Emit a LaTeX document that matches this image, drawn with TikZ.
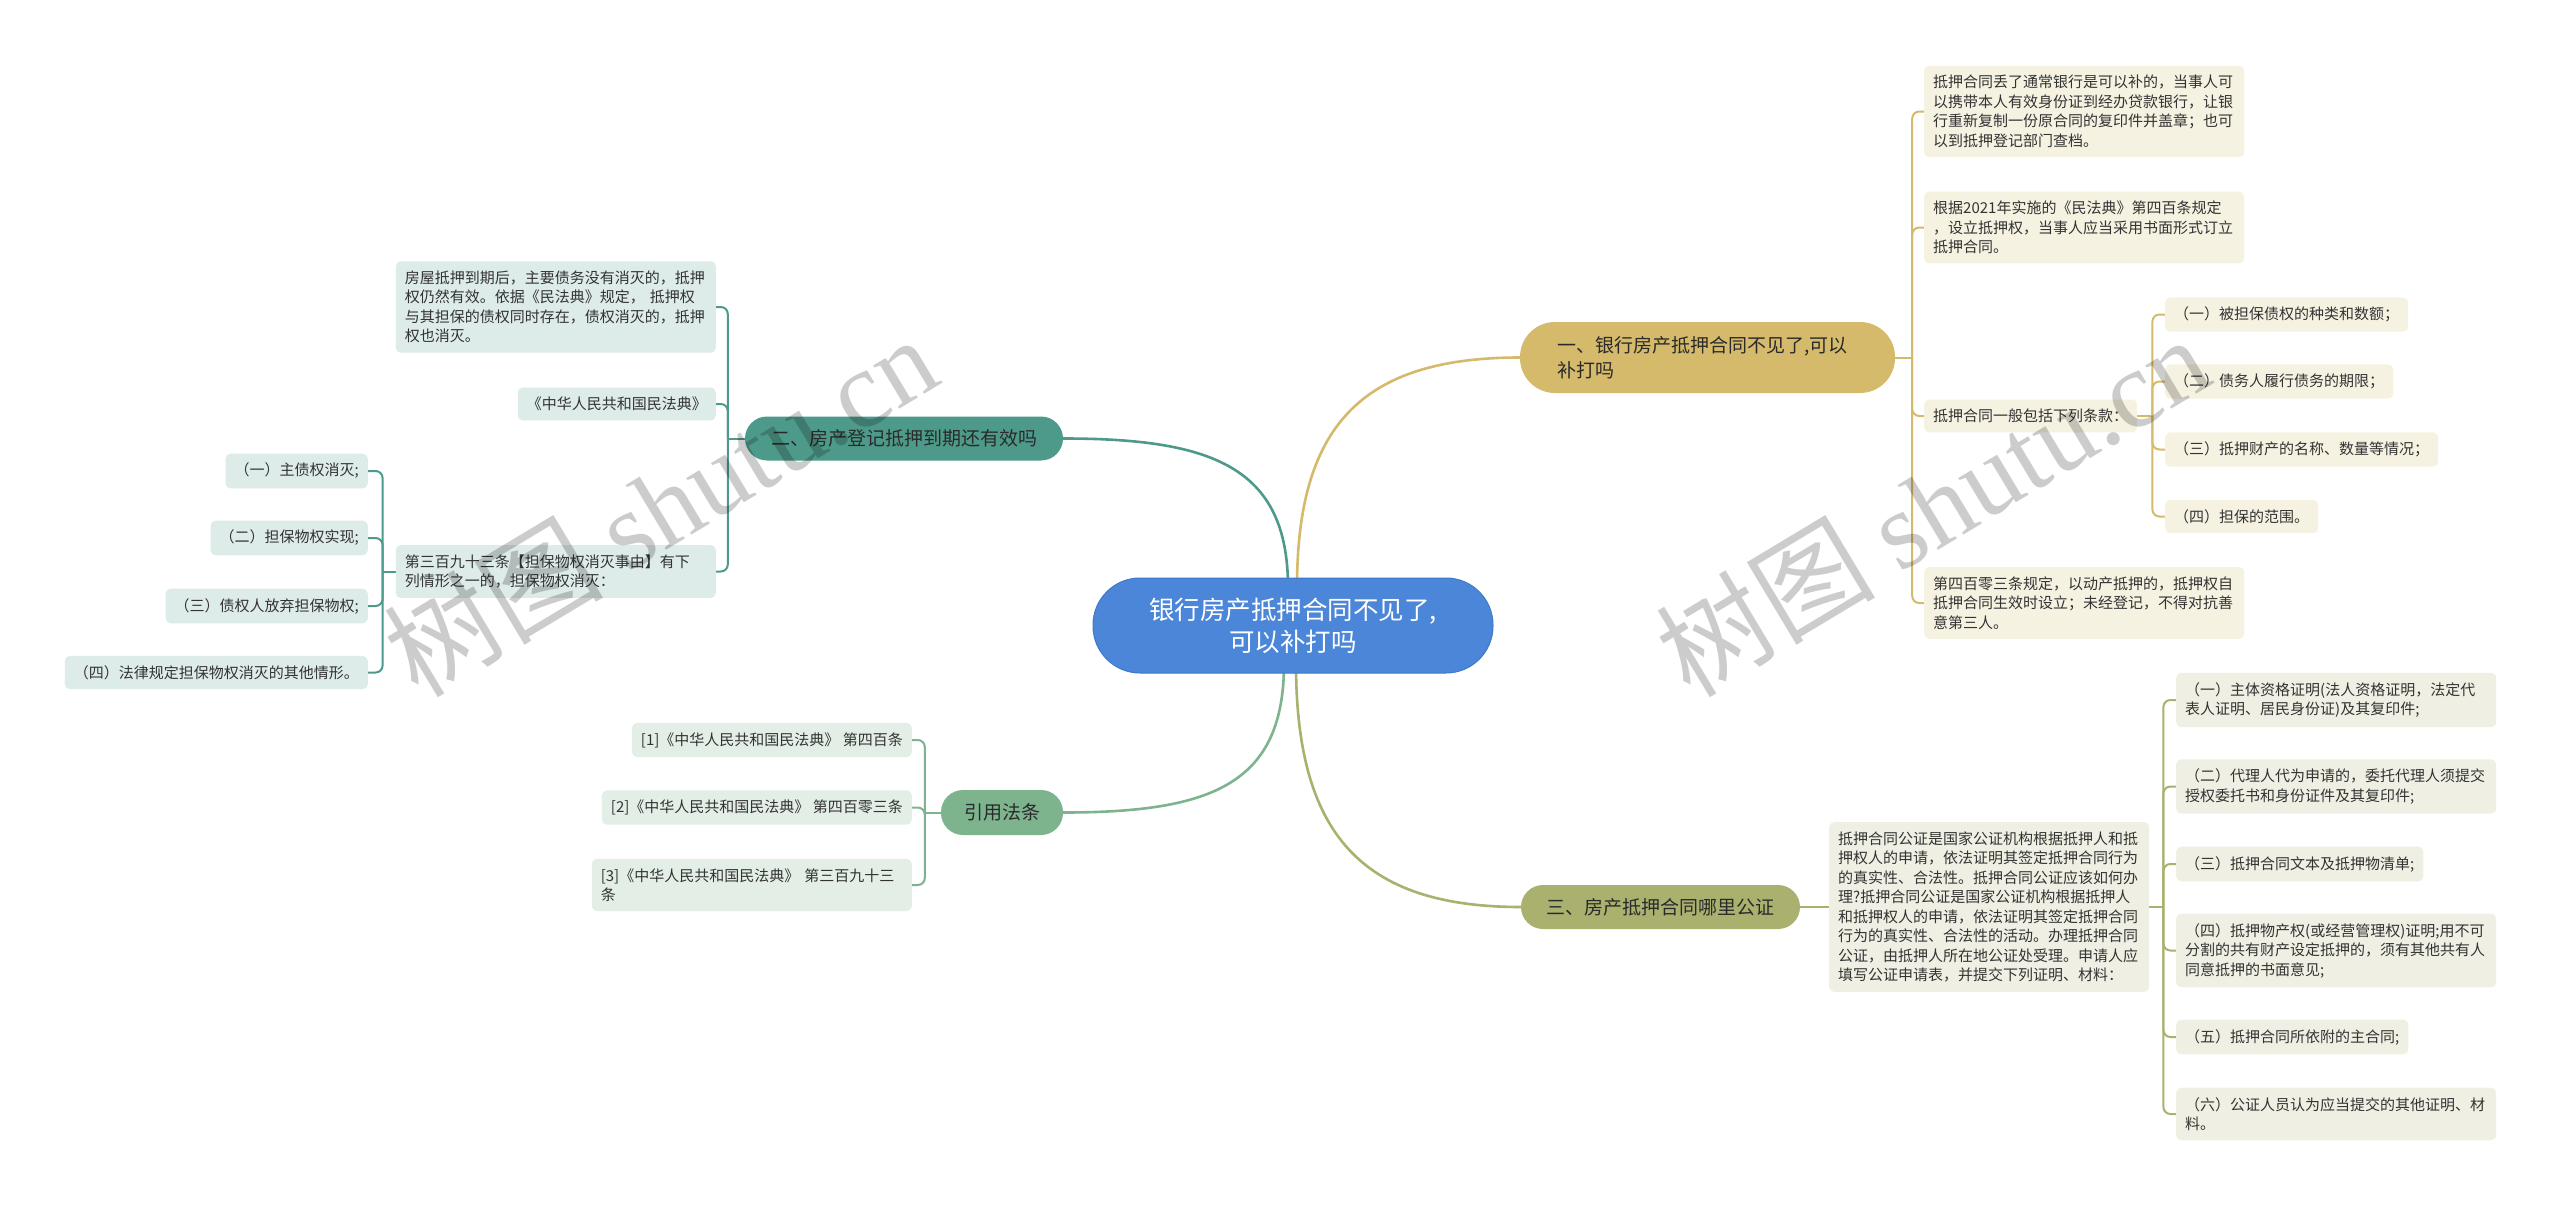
\documentclass[tikz,border=0pt]{standalone}
\usepackage{fontspec}
\setmainfont{Noto Sans CJK SC}
\newfontfamily\wmserif{Liberation Serif}
\usetikzlibrary{calc}
\pgfdeclarelayer{paper}
\pgfdeclarelayer{bg}
\pgfdeclarelayer{fg}
\pgfsetlayers{paper,bg,main,fg}
\definecolor{cblue}{HTML}{4C86D8}
\definecolor{cblueb}{HTML}{3F78C9}
\definecolor{cgold}{HTML}{D4BA6A}
\definecolor{cteal}{HTML}{4E9A8A}
\definecolor{cgreen}{HTML}{7DB48E}
\definecolor{colive}{HTML}{AAB06E}
\definecolor{lgold}{HTML}{F6F2E2}
\definecolor{lteal}{HTML}{DEECE9}
\definecolor{lgreen}{HTML}{E3EFE6}
\definecolor{lolive}{HTML}{EFF0E3}
\definecolor{ctext}{HTML}{333333}
\definecolor{ctextb}{HTML}{2A2A2A}
\tikzset{
  leaf/.style={rounded corners=5pt, inner xsep=9pt, inner ysep=9.5pt,
    font=\fontsize{15}{19.5}\selectfont, text=ctext, align=left},
  wide/.style={text width=302pt},
  pill/.style={inner sep=0pt, font=\fontsize{19}{25}\selectfont, text=ctextb, align=center},
  mainline/.style={line width=2.6pt},
  subline/.style={line width=2pt, rounded corners=7pt},
  wmark/.style={rotate=31, text=black, opacity=0.2, font=\fontsize{110}{110}\selectfont, inner sep=0pt},
}
\begin{document}
\begin{tikzpicture}[x=1pt,y=-1pt]
\useasboundingbox (0,0) rectangle (2560,1207);
\begin{pgfonlayer}{paper}
  \fill[white] (0,0) rectangle (2560,1207);
\end{pgfonlayer}

% central topic
\node[fill=cblue, draw=cblueb, line width=1pt, rounded corners=47pt, minimum width=400pt, minimum height=95pt,
  inner sep=0pt, text=white, align=center, font=\fontsize{25.5}{32}\selectfont] (C) at (1293,625.5)
  {银行房产抵押合同不见了,\\可以补打吗};

% main branches
\node[pill, fill=cgold, rounded corners=35pt, minimum width=375pt, minimum height=71pt, align=left, text width=300pt]
  (B1) at (1707.5,357.5) {一、银行房产抵押合同不见了,可以\\补打吗};
\node[pill, fill=cteal, rounded corners=22pt, minimum width=318pt, minimum height=44pt] (B2) at (904,438.5)
  {二、房产登记抵押到期还有效吗};
\node[pill, fill=colive, rounded corners=22pt, minimum width=279pt, minimum height=44pt] (B3) at (1660.5,907)
  {三、房产抵押合同哪里公证};
\node[pill, fill=cgreen, rounded corners=22pt, minimum width=122pt, minimum height=45pt] (B4) at (1002,812.5)
  {引用法条};

% branch 1 leaves
\node[leaf, wide, fill=lgold, anchor=west] (r1a) at (1924,111.5)
  {抵押合同丢了通常银行是可以补的，当事人可\\以携带本人有效身份证到经办贷款银行，让银\\行重新复制一份原合同的复印件并盖章；也可\\以到抵押登记部门查档。};
\node[leaf, wide, fill=lgold, anchor=west] (r1b) at (1924,227.5)
  {根据2021年实施的《民法典》第四百条规定\\，设立抵押权，当事人应当采用书面形式订立\\抵押合同。};
\node[leaf, fill=lgold, anchor=west] (r1c) at (1924,416)
  {抵押合同一般包括下列条款：};
\node[leaf, wide, fill=lgold, anchor=west] (r1d) at (1924,603)
  {第四百零三条规定，以动产抵押的，抵押权自\\抵押合同生效时设立；未经登记，不得对抗善\\意第三人。};
\node[leaf, fill=lgold, anchor=west] (g1) at (2165,314.5) {（一）被担保债权的种类和数额；};
\node[leaf, fill=lgold, anchor=west] (g2) at (2165,381.5) {（二）债务人履行债务的期限；};
\node[leaf, fill=lgold, anchor=west] (g3) at (2165,449.5) {（三）抵押财产的名称、数量等情况；};
\node[leaf, fill=lgold, anchor=west] (g4) at (2165,516.5) {（四）担保的范围。};

% branch 2 leaves
\node[leaf, wide, fill=lteal, anchor=east] (l2a) at (716,307)
  {房屋抵押到期后，主要债务没有消灭的，抵押\\权仍然有效。依据《民法典》规定， 抵押权\\与其担保的债权同时存在，债权消灭的，抵押\\权也消灭。};
\node[leaf, fill=lteal, anchor=east] (l2b) at (716,404) {《中华人民共和国民法典》};
\node[leaf, wide, fill=lteal, anchor=east] (l2c) at (716,571.5)
  {第三百九十三条【担保物权消灭事由】有下\\列情形之一的，担保物权消灭：};
\node[leaf, fill=lteal, anchor=east] (h1) at (368,471) {（一）主债权消灭;};
\node[leaf, fill=lteal, anchor=east] (h2) at (368,538) {（二）担保物权实现;};
\node[leaf, fill=lteal, anchor=east] (h3) at (368,606) {（三）债权人放弃担保物权;};
\node[leaf, fill=lteal, anchor=east] (h4) at (368,672.5) {（四）法律规定担保物权消灭的其他情形。};

% citations
\node[leaf, fill=lgreen, anchor=east] (c1) at (912,740) {[1]《中华人民共和国民法典》 第四百条};
\node[leaf, fill=lgreen, anchor=east] (c2) at (912,807.5) {[2]《中华人民共和国民法典》 第四百零三条};
\node[leaf, wide, fill=lgreen, anchor=east] (c3) at (912,885) {[3]《中华人民共和国民法典》 第三百九十三\\条};

% branch 3 leaves
\node[leaf, wide, fill=lolive, anchor=west] (big) at (1829,907)
  {抵押合同公证是国家公证机构根据抵押人和抵\\押权人的申请，依法证明其签定抵押合同行为\\的真实性、合法性。抵押合同公证应该如何办\\理?抵押合同公证是国家公证机构根据抵押人\\和抵押权人的申请，依法证明其签定抵押合同\\行为的真实性、合法性的活动。办理抵押合同\\公证，由抵押人所在地公证处受理。申请人应\\填写公证申请表，并提交下列证明、材料：};
\node[leaf, wide, fill=lolive, anchor=west] (o1) at (2176,700)
  {（一）主体资格证明(法人资格证明，法定代\\表人证明、居民身份证)及其复印件;};
\node[leaf, wide, fill=lolive, anchor=west] (o2) at (2176,786.5)
  {（二）代理人代为申请的，委托代理人须提交\\授权委托书和身份证件及其复印件;};
\node[leaf, fill=lolive, anchor=west] (o3) at (2176,864) {（三）抵押合同文本及抵押物清单;};
\node[leaf, wide, fill=lolive, anchor=west] (o4) at (2176,950.5)
  {（四）抵押物产权(或经营管理权)证明;用不可\\分割的共有财产设定抵押的，须有其他共有人\\同意抵押的书面意见;};
\node[leaf, fill=lolive, anchor=west] (o5) at (2176,1037) {（五）抵押合同所依附的主合同;};
\node[leaf, wide, fill=lolive, anchor=west] (o6) at (2176,1114)
  {（六）公证人员认为应当提交的其他证明、材\\料。};

\begin{pgfonlayer}{bg}
  % center to main branches
  \draw[mainline, cgold] ($(C.north)+(4,10)$) .. controls ($(C.north)+(4,-150)$) and ($(B1.west)+(-160,0)$) .. (B1.west);
  \draw[mainline, cteal] ($(C.north)+(-5,10)$) .. controls ($(C.north)+(-5,-110)$) and ($(B2.east)+(150,0)$) .. (B2.east);
  \draw[mainline, cgreen] ($(C.south)+(-9,-10)$) .. controls ($(C.south)+(-9,110)$) and ($(B4.east)+(150,0)$) .. (B4.east);
  \draw[mainline, colive] ($(C.south)+(3,-10)$) .. controls ($(C.south)+(3,160)$) and ($(B3.west)+(-160,0)$) .. (B3.west);

  % branch 1
  \coordinate (k1) at ($(B1.east)+(17,0)$);
  \draw[subline, cgold] (B1.east) -- (k1);
  \foreach \n in {r1a,r1b,r1c,r1d} \draw[subline, cgold] (k1) -- (k1 |- \n.west) -- (\n.west);
  \coordinate (k2) at ($(r1c.east)+(15,0)$);
  \draw[subline, cgold] (r1c.east) -- (k2);
  \foreach \n in {g1,g2,g3,g4} \draw[subline, cgold] (k2) -- (k2 |- \n.west) -- (\n.west);

  % branch 2
  \coordinate (k3) at ($(B2.west)+(-17,0)$);
  \draw[subline, cteal] (B2.west) -- (k3);
  \foreach \n in {l2a,l2b,l2c} \draw[subline, cteal] (k3) -- (k3 |- \n.east) -- (\n.east);
  \coordinate (k4) at ($(l2c.west)+(-13,0)$);
  \draw[subline, cteal] (l2c.west) -- (k4);
  \foreach \n in {h1,h2,h3,h4} \draw[subline, cteal] (k4) -- (k4 |- \n.east) -- (\n.east);

  % citations
  \coordinate (k5) at ($(B4.west)+(-16,0)$);
  \draw[subline, cgreen] (B4.west) -- (k5);
  \foreach \n in {c1,c2,c3} \draw[subline, cgreen] (k5) -- (k5 |- \n.east) -- (\n.east);

  % branch 3
  \draw[subline, colive] (B3.east) -- (big.west);
  \coordinate (k7) at ($(big.east)+(14,0)$);
  \draw[subline, colive] (big.east) -- (k7);
  \foreach \n in {o1,o2,o3,o4,o5,o6} \draw[subline, colive] (k7) -- (k7 |- \n.west) -- (\n.west);
\end{pgfonlayer}

\begin{pgfonlayer}{fg}
  \node[wmark] (wm1) at (660,505) {树图 {\wmserif shutu.cn}};
  \node[wmark] (wm2) at (1932,505) {树图 {\wmserif shutu.cn}};
\end{pgfonlayer}
\end{tikzpicture}
\end{document}
